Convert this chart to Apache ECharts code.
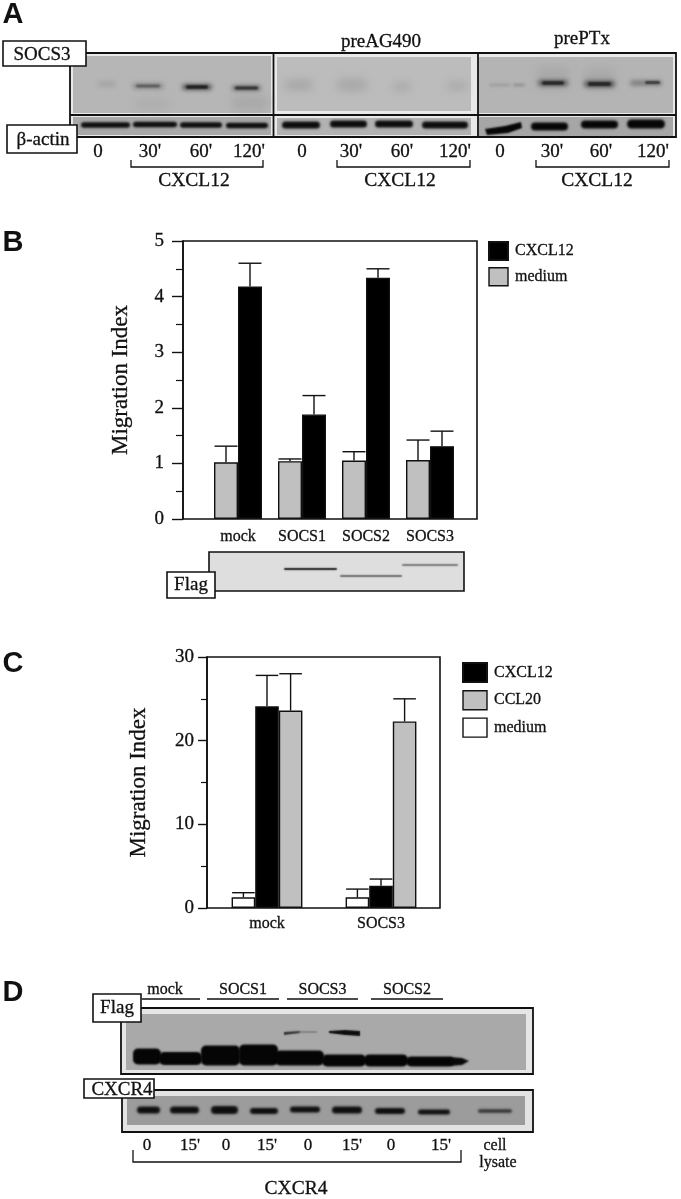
<!DOCTYPE html>
<html><head><meta charset="utf-8">
<style>html,body{margin:0;padding:0;background:#fff}#c{width:681px;height:1199px}</style>
<script src="https://cdn.jsdelivr.net/npm/echarts@6/dist/echarts.min.js"></script>
</head><body><div id="c"></div>
<script>
// Panel B data
const bCategories = ['mock', 'SOCS1', 'SOCS2', 'SOCS3'];
const bMedium = [1.02, 1.04, 1.05, 1.06];
const bMediumTop = [1.31, 1.08, 1.21, 1.42];
const bCxcl12 = [4.18, 1.88, 4.34, 1.31];
const bCxcl12Top = [4.60, 2.22, 4.50, 1.58];
// Panel C data
const cCategories = ['mock', 'SOCS3'];
const cMedium = [1.27, 1.27];
const cMediumTop = [1.83, 2.26];
const cCxcl12 = [24.1, 2.66];
const cCxcl12Top = [27.8, 3.46];
const cCcl20 = [23.6, 22.3];
const cCcl20Top = [28.0, 25.0];
// Blot annotation text
const timeLabelsA = ['0', "30'", "60'", "120'"];
const timeLabelsD = ['0', "15'", '0', "15'", '0', "15'", '0', "15'"];
const laneGroupsD = ['mock', 'SOCS1', 'SOCS3', 'SOCS2'];

const SERIF = '"Liberation Serif"';
const INK = '#111';
const g = [];
function text(t, x, y, size, opt) {
  opt = opt || {};
  g.push({ type: 'text', silent: true, style: { text: t, x, y, fill: opt.fill || INK,
    stroke: opt.bold ? 'none' : INK, lineWidth: opt.bold ? 0 : 0.3,
    font: (opt.bold ? 'bold ' : '') + size + 'px ' + (opt.family || SERIF), align: opt.align || 'center', verticalAlign: 'middle' } });
}
function rect(x, y, w, h, fill, stroke, lw) {
  g.push({ type: 'rect', silent: true, shape: { x, y, width: w, height: h },
    style: { fill: fill || 'none', stroke: stroke || 'none', lineWidth: lw || 0 } });
}
function line(pts, lw) {
  g.push({ type: 'polyline', silent: true, shape: { points: pts }, style: { stroke: INK, lineWidth: lw || 1.3, fill: 'none' } });
}
// soft blot smear: shape drawn off canvas, only its blurred shadow lands on the page
const OFF = 3000;
function band(x0, x1, cy, h, color, blur) {
  g.push({ type: 'rect', silent: true, shape: { x: x0 - OFF, y: cy - h / 2, width: x1 - x0, height: h, r: Math.min(h / 2, 5) },
    style: { fill: color, shadowColor: color, shadowBlur: blur === undefined ? 2 : blur, shadowOffsetX: OFF } });
}
function smear(pts, color, blur) {
  g.push({ type: 'polygon', silent: true, shape: { points: pts.map(p => [p[0] - OFF, p[1]]) },
    style: { fill: color, shadowColor: color, shadowBlur: blur, shadowOffsetX: OFF } });
}
function bracket(x0, x1, y0, y1) { line([[x0, y0], [x0, y1], [x1, y1], [x1, y0]]); }
function label(t, x0, y0, x1, y1, tx, ty, size) {
  rect(x0, y0, x1 - x0, y1 - y0, '#fff', INK, 1.6);
  text(t, tx, ty, size);
}

// Panel letters
[['A', 13, 15], ['B', 13, 243], ['C', 13, 664], ['D', 13, 993]].forEach(l => text(l[0], l[1], l[2], 29, { bold: true, family: '"Liberation Sans"' }));

// ---- Panel A blots
rect(70, 53, 606, 84, '#e9e9e9', INK, 1.8);
rect(73, 56, 198, 57, '#b6b6b6');
rect(277, 57, 194, 54, '#bcbcbc');
rect(479, 57, 194, 56, '#b4b4b4');
rect(73, 117, 198, 18, '#a9a9a9');
rect(277, 118, 194, 17, '#b2b2b2');
rect(479, 117, 194, 19, '#a6a6a6');
// SOCS3 row, panel 1
band(135, 170, 104, 10, '#aeaeae', 8);
band(232, 268, 103, 14, '#a9a9a9', 9);
band(98, 116, 84, 5, '#a2a2a2', 5);
band(132, 164, 86, 5, '#8a8a8a', 5);
band(136, 160, 86, 2.5, '#4a4a4a', 2.5);
band(182, 212, 87, 6, '#5a5a5a', 4);
band(186, 208, 87, 3.5, '#1c1c1c', 2);
band(232, 261, 88, 5, '#6a6a6a', 4);
band(235, 258, 88, 3, '#2c2c2c', 2);
// panel 2
band(285, 313, 85, 10, '#a6a6a6', 9);
band(337, 367, 85, 12, '#a8a8a8', 9);
band(392, 411, 87, 10, '#acacac', 9);
band(447, 467, 86, 8, '#a8a8a8', 8);
// panel 3
band(489, 510, 85, 2.5, '#9a9a9a', 3);
band(513, 525, 85, 2.5, '#8c8c8c', 3);
band(537, 569, 78, 22, '#a9a9a9', 10);
band(584, 615, 78, 20, '#a9a9a9', 10);
band(538, 568, 83, 6, '#5c5c5c', 4);
band(542, 564, 83, 3.5, '#222', 2);
band(584, 615, 84, 7, '#5c5c5c', 4);
band(588, 611, 84, 4, '#262626', 2);
band(630, 662, 83, 5, '#7a7a7a', 4);
band(645, 660, 82.5, 3, '#3a3a3a', 2);
// beta-actin row
[[81, 130, 125], [133, 177, 124.5], [180, 222, 125], [226, 268, 125.5]].forEach(b => band(b[0], b[1], b[2], 5.5, '#0c0c0c', 2.5));
[[282, 320, 125], [330, 367, 124], [375, 413, 124], [422, 468, 125]].forEach(b => band(b[0], b[1], b[2], 7, '#0c0c0c', 2.5));
smear([[485, 129], [505, 126], [521, 122], [522, 128], [508, 133], [487, 135]], '#060606', 2);
[[531, 568, 126.5, 8], [581, 618, 124.5, 8], [627, 665, 124, 9]].forEach(b => band(b[0], b[1], b[2], b[3], '#060606', 2.5));
// frame lines
line([[70, 115], [676, 115]], 1.8);
line([[273.5, 53], [273.5, 137]], 1.8);
line([[478, 53], [478, 137]], 1.8);
label('SOCS3', 3, 41, 86, 66, 42, 55, 19);
label('β-actin', 7, 125, 77, 153, 43, 140, 19);
text('preAG490', 381, 42, 19);
text('prePTx', 582, 39, 19);
[[98, 150, 201, 249], [302, 351, 402, 455], [500, 552, 601, 653]].forEach(xs => {
  xs.forEach((x, i) => text(timeLabelsA[i], x, 152, 19));
});
bracket(131, 263, 160, 167);
bracket(337, 470, 160, 167);
bracket(536, 669, 160, 167);
text('CXCL12', 194, 181, 19.5);
text('CXCL12', 400, 181, 19.5);
text('CXCL12', 597, 181, 19.5);

// ---- Panel B flag blot
rect(209, 552, 255, 39, '#dedede', INK, 1.6);
band(284, 337, 569, 2, '#1c1c1c', 1.5);
band(340, 402, 576, 2, '#6a6a6a', 1.5);
band(402, 458, 565, 2, '#777', 1.5);
label('Flag', 167, 572, 215, 598, 191, 585, 19);

// ---- Panel D blots
[[142, 200], [207, 279], [287, 358], [371, 443]].forEach((s, i) => {
  text(laneGroupsD[i], (s[0] + s[1]) / 2 + (i === 0 ? -6 : 0), 990, 16);
  line([[s[0], 999], [s[1], 999]], 1.6);
});
rect(121, 1008, 412, 66, '#e6e6e6', INK, 1.8);
rect(126, 1014, 400, 56, '#a9a9a9');
band(133, 161, 1056.5, 16, '#050505', 2);
band(159, 202, 1058.5, 13, '#050505', 2);
band(201, 240, 1055.5, 20, '#050505', 2);
band(239, 278, 1055, 21, '#050505', 2);
band(275, 324, 1058, 15, '#050505', 2);
band(322, 366, 1060.5, 12, '#050505', 2);
band(364, 408, 1060.5, 12, '#050505', 2);
band(406, 454, 1061.5, 10, '#050505', 2);
smear([[450, 1057], [462, 1058], [469, 1061], [462, 1065], [450, 1066]], '#0a0a0a', 2);
smear([[284, 1032], [300, 1031], [300, 1033], [284, 1035]], '#333', 1.5);
band(298, 317, 1032, 1.5, '#777', 1.5);
smear([[329, 1031], [345, 1030], [360, 1031], [360, 1036], [345, 1035], [329, 1033]], '#0c0c0c', 1.5);

rect(122, 1090, 411, 42, '#e3e3e3', INK, 1.8);
rect(127, 1096, 398, 29, '#9c9c9c');
[[137, 160, 1110, 7], [170, 199, 1110, 7], [211, 238, 1110, 8], [250, 278, 1111, 6], [290, 320, 1109.5, 6], [332, 362, 1110, 7], [375, 405, 1111, 6], [418, 450, 1112, 5]]
  .forEach(b => band(b[0], b[1], b[2], b[3], '#0e0e0e', 2.5));
band(478, 512, 1111, 3.5, '#303030', 2.5);
label('Flag', 93, 994, 141, 1022, 117, 1008, 19);
label('CXCR4', 84, 1079, 154, 1098, 122, 1090, 19);
[147, 190, 226, 267, 308, 352, 391, 441].forEach((x, i) => text(timeLabelsD[i], x, 1146, 17));
text('cell', 495, 1146, 16);
text('lysate', 498, 1163, 16);
bracket(133, 461, 1150, 1162);
text('CXCR4', 296, 1189, 19.5);

// ---- Error-bar series through the inner axes
function errorSeries(name, xi, yi, tops, offsetBars, barW, base) {
  return {
    type: 'custom', name, xAxisIndex: xi, yAxisIndex: yi, silent: true, z: 1, clip: false,
    data: tops.map((t, i) => [i, t, base[i]]),
    renderItem(params, api) {
      const top = api.coord([api.value(0), api.value(1)]);
      const bot = api.coord([api.value(0), api.value(2)]);
      const x = top[0] + offsetBars * barW;
      const st = { stroke: INK, lineWidth: 1.4, fill: 'none' };
      return { type: 'group', children: [
        { type: 'line', shape: { x1: x, y1: top[1], x2: x, y2: bot[1] }, style: st },
        { type: 'line', shape: { x1: x - barW / 2 + 0.5, y1: top[1], x2: x + barW / 2 - 0.5, y2: top[1] }, style: st }
      ] };
    }
  };
}
function barSeries(name, xi, yi, data, color, w) {
  return { type: 'bar', name, xAxisIndex: xi, yAxisIndex: yi, data, barWidth: w, barGap: 0, z: 2, silent: true,
    itemStyle: { color, borderColor: INK, borderWidth: 1.4 } };
}
const THICK = { textBorderColor: INK, textBorderWidth: 0.3 };
const frameX = i => ({ type: 'value', gridIndex: i, min: 0, max: 1, show: false });
const frameY = (i, max, interval, minorLen, margin, gap) => ({
  type: 'value', gridIndex: i, min: 0, max, interval, position: 'left',
  splitLine: { show: false },
  axisLine: { show: true, lineStyle: { color: INK, width: 1.6 } },
  axisTick: { show: true, length: minorLen * 2 - 3, lineStyle: { color: INK, width: 1.4 } },
  minorTick: { show: true, splitNumber: 2, length: minorLen, lineStyle: { color: INK, width: 1.2 } },
  minorSplitLine: { show: false },
  axisLabel: Object.assign({ color: INK, fontFamily: SERIF, fontSize: 19, margin }, THICK),
  name: 'Migration Index', nameLocation: 'middle', nameGap: gap,
  nameTextStyle: Object.assign({ color: INK, fontFamily: SERIF, fontSize: 23 }, THICK)
});
const innerX = (i, cats, margin) => ({
  type: 'category', gridIndex: i, data: cats, axisLine: { show: false }, axisTick: { show: false },
  axisLabel: Object.assign({ color: INK, fontFamily: SERIF, fontSize: 16, margin, interval: 0 }, THICK)
});
const innerY = (i, max) => ({ type: 'value', gridIndex: i, min: 0, max, show: false, splitLine: { show: false } });
const gridBox = (left, right, top, bottom, show) => ({
  left, top, width: right - left, height: bottom - top, show: !!show, containLabel: false, outerBoundsMode: 'none',
  borderColor: INK, borderWidth: 1.6, backgroundColor: 'transparent'
});
const legend = (left, top, names, gap, w, h) => ({
  orient: 'vertical', left, top, padding: 0, itemGap: gap, itemWidth: w, itemHeight: h, icon: 'rect',
  data: names, selectedMode: false,
  textStyle: Object.assign({ color: INK, fontFamily: SERIF, fontSize: 16, padding: [0, 0, 0, 2] }, THICK)
});
const GRAY = '#c0c0c0';
const BW = 24, CW = 23.6;

const chart = echarts.init(document.getElementById('c'), null, { renderer: 'canvas' });
chart.setOption({
  animation: false,
  backgroundColor: '#fff',
  grid: [
    gridBox(183, 477, 241, 519, true),
    gridBox(206, 462, 241, 519),
    gridBox(207, 440, 657, 908, true),
    gridBox(210, 438, 657, 908)
  ],
  xAxis: [frameX(0), innerX(1, bCategories, 10), frameX(2), innerX(3, cCategories, 8)],
  yAxis: [
    frameY(0, 5, 1, 7, 19, 51),
    innerY(1, 5),
    frameY(2, 30, 10, 6, 13, 57),
    innerY(3, 30)
  ],
  legend: [
    legend(488, 241, [
      { name: 'CXCL12', itemStyle: { color: '#000' } },
      { name: 'medium', itemStyle: { color: GRAY, borderColor: INK, borderWidth: 1.4 } }
    ], 6, 19, 18),
    legend(462, 662, [
      { name: 'CXCL12', itemStyle: { color: '#000' } },
      { name: 'CCL20', itemStyle: { color: GRAY, borderColor: INK, borderWidth: 1.4 } },
      { name: 'medium', itemStyle: { color: '#fff', borderColor: INK, borderWidth: 1.4 } }
    ], 7, 24, 19)
  ],
  series: [
    errorSeries('errB1', 1, 1, bMediumTop, -0.5, BW, bMedium),
    errorSeries('errB2', 1, 1, bCxcl12Top, 0.5, BW, bCxcl12),
    barSeries('medium', 1, 1, bMedium, GRAY, BW),
    barSeries('CXCL12', 1, 1, bCxcl12, '#000', BW),
    errorSeries('errC1', 3, 3, cMediumTop, -1, CW, cMedium),
    errorSeries('errC2', 3, 3, cCxcl12Top, 0, CW, cCxcl12),
    errorSeries('errC3', 3, 3, cCcl20Top, 1, CW, cCcl20),
    barSeries('medium', 3, 3, cMedium, '#fff', CW),
    barSeries('CXCL12', 3, 3, cCxcl12, '#000', CW),
    barSeries('CCL20', 3, 3, cCcl20, GRAY, CW)
  ],
  graphic: { elements: g }
});
</script></body></html>
